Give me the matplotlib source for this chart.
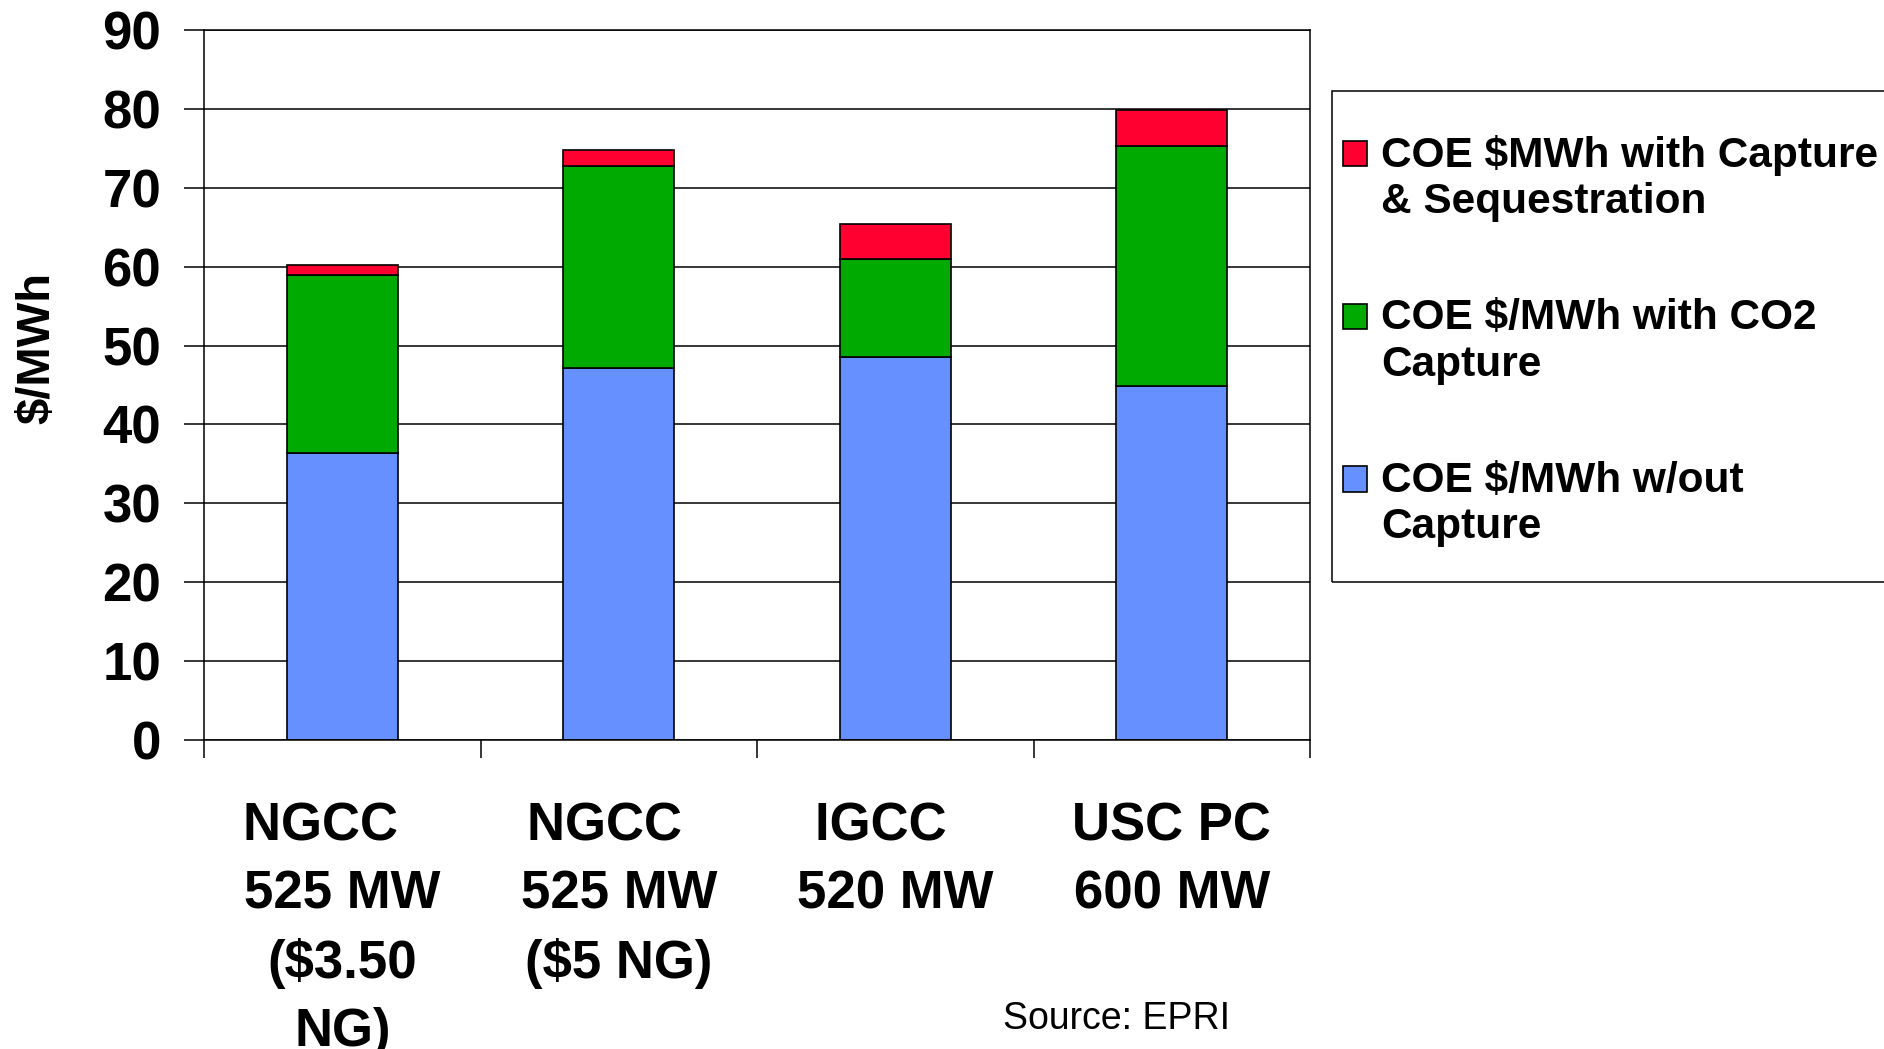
import matplotlib
matplotlib.use("Agg")
import matplotlib.pyplot as plt
from matplotlib.patches import Rectangle
from matplotlib.container import BarContainer
from matplotlib.legend_handler import HandlerPatch, update_from_first_child
import numpy as np

plt.rcParams['font.family'] = ['Liberation Sans', 'DejaVu Sans']

# data ($/MWh)
categories = ["NGCC   \n525 MW\n($3.50\nNG)", "NGCC  \n525 MW\n($5 NG)", "IGCC  \n520 MW", "USC PC\n600 MW"]
coe_no_capture = [36.4, 47.1, 48.5, 44.9]
coe_co2_capture = [22.6, 25.7, 12.5, 30.4]
coe_sequestration = [1.2, 2.0, 4.4, 4.5]
yticks = list(range(0, 100, 10))

lbl_seq = "COE $MWh with Capture\n& Sequestration"
lbl_co2 = "COE $/MWh with CO2\nCapture"
lbl_none = "COE $/MWh w/out\nCapture"

c_blue = '#6690ff'
c_green = '#00aa00'
c_red = '#ff0030'

W, H = 1884, 1049
fig = plt.figure(figsize=(W / 100, H / 100), dpi=100)
ax = fig.add_axes([204 / W, 1 - 740 / H, (1310 - 204) / W, (740 - 30) / H])

x = np.arange(len(categories))
b1 = ax.bar(x, coe_no_capture, 0.4, color=c_blue, edgecolor='black', linewidth=1.2)
bottom2 = np.array(coe_no_capture)
b2 = ax.bar(x, coe_co2_capture, 0.4, bottom=bottom2, color=c_green, edgecolor='black', linewidth=1.2)
bottom3 = bottom2 + np.array(coe_co2_capture)
b3 = ax.bar(x, coe_sequestration, 0.4, bottom=bottom3, color=c_red, edgecolor='black', linewidth=1.2)

ax.set_xlim(-0.5, len(categories) - 0.5)
ax.set_ylim(0, 90)
ax.set_yticks(yticks)
ax.set_yticklabels([str(v) for v in yticks], fontsize=38, fontweight='bold')
ax.tick_params(axis='y', direction='out', length=14.4, width=1.1, pad=16.5)
ax.yaxis.grid(True, color='black', linewidth=1.1)
ax.set_axisbelow(True)

# category boundaries as major ticks, names as minor ticks
ax.set_xticks(np.arange(len(categories) + 1) - 0.5)
ax.set_xticklabels([])
ax.tick_params(axis='x', which='major', direction='out', length=13, width=1.1)
ax.set_xticks(x, minor=True)
ax.set_xticklabels(categories, minor=True, fontsize=38, fontweight='bold')
ax.tick_params(axis='x', which='minor', length=0, pad=44)
for t in ax.get_xticklabels(minor=True):
    t.set_linespacing(1.462)
    t.set_verticalalignment('top')

for s in ax.spines.values():
    s.set_linewidth(1.1)

fig.text(37.5 / W, 1 - 348.5 / H, "$/MWh", rotation=90, fontsize=34, fontweight='bold',
         ha='center', va='center')
fig.text(1003 / W, 1 - 1029 / H, "Source: EPRI", fontsize=27, va='baseline')


# legend: square sits next to first text line
def top_square(legend, orig_handle, xdescent, ydescent, width, height, fontsize):
    return Rectangle((-xdescent, -ydescent + 0.6 * fontsize), width, height)


leg = ax.legend([b3, b2, b1], [lbl_seq, lbl_co2, lbl_none],
                loc='upper left', bbox_to_anchor=(1343 / W, 1 - 135 / H),
                bbox_transform=fig.transFigure, frameon=False,
                prop={'size': 30.5, 'weight': 'bold'},
                handlelength=0.57, handleheight=0.55, handletextpad=0.33,
                labelspacing=1.8, borderpad=0, borderaxespad=0,
                handler_map={BarContainer: HandlerPatch(patch_func=top_square,
                                                        update_func=update_from_first_child)})
for t in leg.get_texts():
    t.set_linespacing(1.2)

fig.add_artist(Rectangle((1332 / W, 1 - 582 / H), 0.5, (582 - 91) / H,
                         transform=fig.transFigure, fill=False,
                         edgecolor='black', linewidth=1.1, clip_on=False))

fig.savefig('out.png', dpi=100)
